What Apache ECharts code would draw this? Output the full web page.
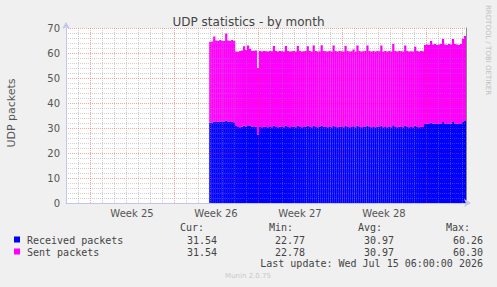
<!DOCTYPE html>
<html>
<head>
<meta charset="utf-8">
<script src="https://cdn.jsdelivr.net/npm/echarts@6/dist/echarts.min.js"></script>
<style>
  html, body { margin: 0; padding: 0; background: #f0f0f0; }
  #chart { width: 497px; height: 287px; }
</style>
</head>
<body>
<div id="chart"></div>
<script>
// start of ISO week 25 (Mon 15 Jun 2026); axis values are hours from there
const week25Start = Date.UTC(2026, 5, 15);
const HOUR = 3600 * 1000;
// one value per 4 hour bin, first bin starts 238 h after week25Start
const startHour = 238;
const binHours = 4;

const received = [
  32.1, 32.2, 32.6, 32.4, 32.5, 32.6, 32.4, 32.5, 33.0, 32.6,
  32.4, 32.5, 32.3, 30.8, 30.4, 30.3, 30.5, 30.9, 30.6, 30.8,
  31.0, 30.5, 30.4, 30.6, 27.3, 30.4, 30.3, 30.5, 30.4, 30.3,
  30.4, 30.3, 30.9, 30.4, 30.3, 30.5, 30.4, 30.3, 31.0, 30.4,
  30.3, 30.4, 30.5, 30.3, 31.0, 30.4, 30.3, 30.4, 30.5, 30.9,
  30.4, 30.3, 31.0, 30.4, 30.3, 30.4, 30.9, 30.5, 30.4, 30.3,
  30.4, 30.3, 31.0, 30.4, 30.3, 30.5, 30.4, 30.3, 31.0, 30.4,
  30.3, 30.4, 30.7, 30.3, 31.0, 30.4, 30.3, 30.4, 30.5, 31.0,
  30.4, 30.3, 30.4, 30.3, 30.5, 30.4, 31.0, 30.3, 30.4, 30.3,
  30.4, 30.3, 31.1, 30.4, 30.3, 30.5, 30.4, 30.3, 31.0, 30.4,
  30.3, 30.4, 30.3, 30.9, 30.4, 30.3, 30.5, 30.4, 31.6, 31.7,
  31.6, 32.2, 31.7, 31.8, 31.6, 31.7, 31.8, 32.4, 31.7, 31.6,
  31.8, 31.7, 32.4, 31.8, 31.7, 31.6, 31.8, 32.4, 32.8
];
const sent = [
  32.4, 32.4, 34.0, 32.6, 32.3, 32.6, 32.4, 32.3, 34.8, 32.4,
  32.4, 32.7, 32.5, 29.8, 30.1, 30.5, 30.5, 31.8, 30.6, 32.2,
  30.7, 30.3, 30.5, 30.4, 26.7, 30.4, 30.3, 30.3, 30.3, 30.3,
  30.4, 30.4, 31.9, 30.4, 30.3, 30.3, 30.3, 30.3, 31.8, 30.4,
  30.3, 30.3, 30.3, 30.3, 31.8, 30.4, 30.3, 30.3, 30.3, 31.8,
  30.4, 30.3, 32.0, 30.4, 30.3, 30.3, 32.2, 30.3, 30.3, 30.3,
  30.4, 30.3, 32.0, 30.4, 30.3, 30.3, 30.3, 30.3, 31.8, 30.4,
  30.3, 30.3, 30.7, 30.3, 32.0, 30.4, 30.3, 30.3, 30.3, 32.0,
  30.4, 30.3, 30.4, 30.3, 30.3, 30.3, 32.0, 30.3, 30.4, 30.3,
  30.4, 30.3, 32.5, 30.4, 30.3, 30.3, 30.3, 30.3, 32.0, 30.4,
  30.3, 30.3, 30.3, 31.6, 30.4, 30.3, 30.3, 30.3, 31.6, 31.7,
  31.6, 32.6, 31.7, 31.8, 31.6, 31.7, 31.8, 33.2, 31.7, 31.6,
  31.8, 31.7, 33.2, 31.8, 31.7, 31.6, 31.8, 33.2, 34.0
];

const weekLabels = ["Week 25", "Week 26", "Week 27", "Week 28"];

const seriesNames = ["Received packets", "Sent packets"];
const seriesColors = ["#0000ff", "#ff00ff"];
const curValues = ["31.54", "31.54"];
const minValues = ["22.77", "22.78"];
const avgValues = ["30.97", "30.97"];
const maxValues = ["60.26", "60.30"];
const lastUpdate = "Last update: Wed Jul 15 06:00:00 2026";

// visible time window, hours from week25Start
const xMin = -48;
const xMax = 752;

const MINOR = "rgba(140,140,140,0.4)";
const MAJOR = "rgba(235,50,50,0.45)";
const AXIS = "#c4c4f0";

function toPoints(values) {
  return values.map((v, k) => [week25Start + (startHour + binHours * k + binHours / 2) * HOUR, v]);
}

const chart = echarts.init(document.getElementById("chart"), null, {renderer: "svg"});

const mono = "10px 'DejaVu Sans Mono'";
const graphics = [
  {
    type: "text", x: 488, y: 5, rotation: -Math.PI / 2,
    style: {text: "RRDTOOL / TOBI OETIKER", fill: "#c0c0c0", font: "7px 'DejaVu Sans'", textAlign: "left", textVerticalAlign: "middle"}
  },
  {
    type: "text", x: 11, y: 113, rotation: Math.PI / 2,
    style: {text: "UDP packets", fill: "#555", font: "11px 'DejaVu Sans'", textAlign: "center", textVerticalAlign: "middle"}
  },
  {type: "text", x: 204, y: 227.5, style: {text: "Cur:", fill: "#444", font: mono, textAlign: "right", textVerticalAlign: "middle"}},
  {type: "text", x: 293, y: 227.5, style: {text: "Min:", fill: "#444", font: mono, textAlign: "right", textVerticalAlign: "middle"}},
  {type: "text", x: 382, y: 227.5, style: {text: "Avg:", fill: "#444", font: mono, textAlign: "right", textVerticalAlign: "middle"}},
  {type: "text", x: 470, y: 227.5, style: {text: "Max:", fill: "#444", font: mono, textAlign: "right", textVerticalAlign: "middle"}},
  {type: "text", x: 483, y: 263.5, style: {text: lastUpdate, fill: "#444", font: mono, textAlign: "right", textVerticalAlign: "middle"}},
  {type: "text", x: 248, y: 276, style: {text: "Munin 2.0.75", fill: "#c8c8c8", font: "7px 'DejaVu Sans'", textAlign: "center", textVerticalAlign: "middle"}}
];
seriesNames.forEach((name, i) => {
  const y = 240 + i * 12;
  graphics.push({type: "rect", shape: {x: 14, y: y - 3.5, width: 6, height: 6}, style: {fill: seriesColors[i]}});
  graphics.push({type: "text", x: 27, y: y, style: {text: name, fill: "#444", font: mono, textAlign: "left", textVerticalAlign: "middle"}});
  [[curValues, 217], [minValues, 305], [avgValues, 394], [maxValues, 483]].forEach(([arr, x]) => {
    graphics.push({type: "text", x: x, y: y, style: {text: arr[i], fill: "#444", font: mono, textAlign: "right", textVerticalAlign: "middle"}});
  });
});

const option = {
  animation: false,
  backgroundColor: "#f0f0f0",
  title: {
    text: "UDP statistics - by month",
    left: "center",
    top: 11,
    textStyle: {fontFamily: "DejaVu Sans", fontSize: 12, fontWeight: "normal", color: "#444"}
  },
  grid: {left: 66, top: 28, width: 400, height: 175, backgroundColor: "#fff", show: true, borderWidth: 0},
  xAxis: [
    {
      // daily grid, every 7th line (week start) in red
      type: "value", min: xMin, max: xMax, interval: 24, z: 5,
      axisLine: {show: true, onZero: false, symbol: ["none", "arrow"], symbolSize: [6, 7], symbolOffset: [0, 5], lineStyle: {color: AXIS}},
      axisTick: {show: false},
      axisLabel: {show: false},
      splitLine: {show: true, lineStyle: {type: [1, 1], color: [MINOR, MINOR, MAJOR, MINOR, MINOR, MINOR, MINOR]}}
    },
    {
      // week labels, centred in each week
      type: "value", min: xMin, max: xMax, interval: 12, position: "bottom",
      axisLine: {show: false, onZero: false},
      axisTick: {show: false},
      splitLine: {show: false},
      axisLabel: {
        margin: 5, color: "#555", fontFamily: "DejaVu Sans", fontSize: 10,
        formatter: v => {
          const w = (v - 84) / 168;
          return Number.isInteger(w) && w >= 0 && w < weekLabels.length ? weekLabels[w] : "";
        }
      }
    },
    {
      // data axis
      type: "time", show: false,
      min: week25Start + xMin * HOUR, max: week25Start + xMax * HOUR
    }
  ],
  yAxis: [
    {
      type: "value", min: 0, max: 70, interval: 10, z: 5,
      axisLine: {show: true, onZero: false, symbol: ["none", "arrow"], symbolSize: [6, 7], symbolOffset: [0, 6], lineStyle: {color: AXIS}},
      axisTick: {show: false},
      axisLabel: {margin: 6, color: "#555", fontFamily: "DejaVu Sans", fontSize: 10},
      splitLine: {show: true, lineStyle: {type: [1, 1], color: MAJOR}},
      minorTick: {show: false, splitNumber: 5},
      minorSplitLine: {show: true, lineStyle: {type: [1, 1], color: MINOR}}
    },
    {
      type: "value", min: 0, max: 70, position: "right", z: 5,
      axisLine: {show: true, onZero: false, lineStyle: {color: "#888"}},
      axisTick: {show: false}, axisLabel: {show: false}, splitLine: {show: false}
    }
  ],
  series: [
    {
      name: seriesNames[0], type: "bar", stack: "udp", barWidth: 2.2, xAxisIndex: 2,
      itemStyle: {color: seriesColors[0]}, data: toPoints(received)
    },
    {
      name: seriesNames[1], type: "bar", stack: "udp", barWidth: 2.2, xAxisIndex: 2,
      itemStyle: {color: seriesColors[1]}, data: toPoints(sent)
    }
  ],
  graphic: graphics
};

chart.setOption(option);
</script>
</body>
</html>
